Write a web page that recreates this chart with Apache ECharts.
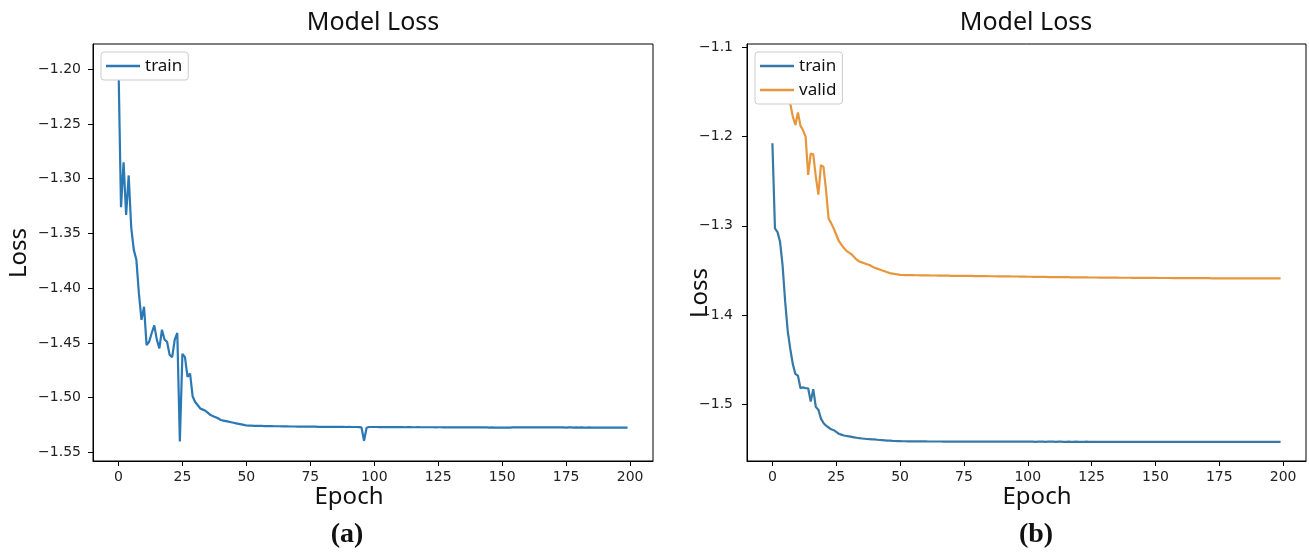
<!DOCTYPE html>
<html>
<head>
<meta charset="utf-8">
<script src="https://cdn.jsdelivr.net/npm/echarts@6/dist/echarts.min.js"></script>
<style>
html,body{margin:0;padding:0;background:#fff;}
#chart{width:1309px;height:554px;}
</style>
</head>
<body>
<div id="chart"></div>
<script>
// ---- data ----
const xTicks = [0, 25, 50, 75, 100, 125, 150, 175, 200];
const yTicksA = [-1.55, -1.50, -1.45, -1.40, -1.35, -1.30, -1.25, -1.20];
const yTicksB = [-1.5, -1.4, -1.3, -1.2, -1.1];

// (a) train loss, epochs 0..199
const trainA = [
-1.194,-1.326,-1.285,-1.333,-1.297,-1.345,-1.365,-1.374,-1.405,-1.429,
-1.417,-1.452,-1.449,-1.441,-1.434,-1.447,-1.455,-1.438,-1.447,-1.449,
-1.461,-1.463,-1.447,-1.441,-1.540,-1.460,-1.463,-1.481,-1.478,-1.499,
-1.504,-1.507,-1.510,-1.511,-1.512,-1.514,-1.516,-1.517,-1.518,-1.519,
-1.5205,-1.521,-1.5215,-1.522,-1.5225,-1.523,-1.5235,-1.524,-1.5245,-1.525,
-1.5255,-1.5256,-1.5257,-1.5258,-1.5258,-1.5259,-1.5259,-1.526,-1.526,-1.5261,
-1.5261,-1.5262,-1.5262,-1.5262,-1.5263,-1.5263,-1.5263,-1.5264,-1.5264,-1.5264,
-1.5265,-1.5265,-1.5265,-1.5265,-1.5266,-1.5266,-1.5266,-1.5266,-1.5267,-1.5267,
-1.5267,-1.5267,-1.5267,-1.5268,-1.5267,-1.5268,-1.5268,-1.5268,-1.5268,-1.5269,
-1.5268,-1.5269,-1.5269,-1.5269,-1.527,-1.5272,-1.5395,-1.5276,-1.5269,-1.5269,
-1.5269,-1.5269,-1.527,-1.5269,-1.527,-1.527,-1.527,-1.5269,-1.527,-1.527,
-1.527,-1.527,-1.5271,-1.527,-1.527,-1.5271,-1.5271,-1.527,-1.5271,-1.5271,
-1.5271,-1.5271,-1.5271,-1.5271,-1.5272,-1.5271,-1.5271,-1.5272,-1.5271,-1.5272,
-1.5272,-1.5271,-1.5272,-1.5272,-1.5272,-1.5272,-1.5273,-1.5272,-1.5272,-1.5273,
-1.5273,-1.5272,-1.5273,-1.5273,-1.5273,-1.5274,-1.5273,-1.5274,-1.5274,-1.5275,
-1.5275,-1.5275,-1.5274,-1.5274,-1.5273,-1.5273,-1.5272,-1.5272,-1.5272,-1.5272,
-1.5272,-1.5273,-1.5272,-1.5272,-1.5273,-1.5273,-1.5272,-1.5273,-1.5273,-1.5273,
-1.5273,-1.5273,-1.5272,-1.5273,-1.5273,-1.5274,-1.5273,-1.5273,-1.5274,-1.5273,
-1.5274,-1.5273,-1.5274,-1.5274,-1.5273,-1.5274,-1.5274,-1.5274,-1.5274,-1.5274,
-1.5274,-1.5274,-1.5275,-1.5274,-1.5274,-1.5274,-1.5275,-1.5274,-1.5274,-1.5274
];

// (b) train loss, epochs 0..199
const trainB = [
-1.2076,-1.303,-1.307,-1.318,-1.345,-1.385,-1.418,-1.438,-1.455,-1.466,
-1.468,-1.482,-1.481,-1.482,-1.482,-1.497,-1.483,-1.503,-1.506,-1.516,
-1.521,-1.524,-1.526,-1.528,-1.529,-1.531,-1.533,-1.534,-1.535,-1.5355,
-1.536,-1.5365,-1.537,-1.5375,-1.538,-1.5383,-1.5386,-1.5389,-1.539,-1.5392,
-1.5394,-1.5397,-1.54,-1.5402,-1.5404,-1.5406,-1.5408,-1.541,-1.5411,-1.5412,
-1.5413,-1.5414,-1.5414,-1.5415,-1.5415,-1.5415,-1.5416,-1.5416,-1.5416,-1.5416,
-1.5416,-1.5417,-1.5417,-1.5417,-1.5417,-1.5417,-1.5417,-1.5418,-1.5418,-1.5418,
-1.5418,-1.5418,-1.5418,-1.5418,-1.5418,-1.5418,-1.5418,-1.5419,-1.5418,-1.5418,
-1.5418,-1.5419,-1.5419,-1.5418,-1.5419,-1.5419,-1.5419,-1.5419,-1.5419,-1.5419,
-1.5419,-1.5419,-1.5419,-1.5419,-1.5419,-1.5419,-1.5419,-1.5419,-1.5419,-1.5419,
-1.5419,-1.5419,-1.5419,-1.542,-1.5419,-1.5419,-1.5419,-1.542,-1.5419,-1.5419,
-1.5419,-1.542,-1.5419,-1.5419,-1.542,-1.542,-1.5419,-1.542,-1.542,-1.5419,
-1.542,-1.542,-1.542,-1.5419,-1.542,-1.542,-1.542,-1.542,-1.542,-1.542,
-1.542,-1.542,-1.542,-1.542,-1.542,-1.542,-1.542,-1.542,-1.542,-1.542,
-1.542,-1.542,-1.542,-1.542,-1.5421,-1.542,-1.542,-1.542,-1.542,-1.542,
-1.542,-1.542,-1.5421,-1.542,-1.542,-1.542,-1.5421,-1.542,-1.542,-1.5421,
-1.5421,-1.542,-1.5421,-1.5421,-1.542,-1.5421,-1.5421,-1.5421,-1.5421,-1.5421,
-1.5421,-1.5421,-1.5421,-1.5421,-1.5421,-1.5421,-1.5421,-1.5421,-1.5421,-1.5421,
-1.5421,-1.5421,-1.5421,-1.5421,-1.5421,-1.5421,-1.5421,-1.5421,-1.5421,-1.5421,
-1.5421,-1.5421,-1.5421,-1.5421,-1.5421,-1.5421,-1.5421,-1.5421,-1.5421,-1.5421
];

// (b) valid loss, epochs 0..199
const validB = [
-1.118,-1.125,-1.133,-1.140,-1.147,-1.153,-1.158,-1.163,-1.178,-1.187,
-1.173,-1.188,-1.193,-1.200,-1.243,-1.219,-1.220,-1.245,-1.265,-1.232,
-1.234,-1.260,-1.292,-1.297,-1.303,-1.310,-1.317,-1.321,-1.325,-1.328,
-1.330,-1.332,-1.335,-1.338,-1.340,-1.341,-1.342,-1.343,-1.344,-1.3455,
-1.347,-1.348,-1.349,-1.350,-1.351,-1.352,-1.353,-1.3535,-1.354,-1.3545,
-1.355,-1.3551,-1.3552,-1.3552,-1.3553,-1.3553,-1.3554,-1.3554,-1.3555,-1.3555,
-1.3556,-1.3556,-1.3557,-1.3557,-1.3557,-1.3558,-1.3558,-1.3559,-1.3559,-1.3559,
-1.356,-1.356,-1.356,-1.3561,-1.3561,-1.3561,-1.3562,-1.3562,-1.3562,-1.3563,
-1.3563,-1.3563,-1.3564,-1.3564,-1.3564,-1.3565,-1.3565,-1.3565,-1.3566,-1.3566,
-1.3566,-1.3567,-1.3567,-1.3567,-1.3568,-1.3568,-1.3568,-1.3569,-1.3569,-1.357,
-1.3571,-1.3571,-1.3572,-1.3572,-1.3572,-1.3573,-1.3573,-1.3573,-1.3574,-1.3574,
-1.3574,-1.3575,-1.3575,-1.3575,-1.3576,-1.3576,-1.3576,-1.3577,-1.3577,-1.3577,
-1.3578,-1.3578,-1.3578,-1.3578,-1.3579,-1.3579,-1.3579,-1.3579,-1.358,-1.358,
-1.358,-1.358,-1.3581,-1.3581,-1.3581,-1.3581,-1.3582,-1.3582,-1.3582,-1.3582,
-1.3582,-1.3583,-1.3583,-1.3583,-1.3583,-1.3583,-1.3584,-1.3584,-1.3584,-1.3584,
-1.3584,-1.3585,-1.3585,-1.3585,-1.3585,-1.3585,-1.3585,-1.3586,-1.3586,-1.3586,
-1.3586,-1.3586,-1.3586,-1.3586,-1.3587,-1.3587,-1.3587,-1.3587,-1.3587,-1.3587,
-1.3587,-1.3587,-1.3588,-1.3588,-1.3588,-1.3588,-1.3588,-1.3588,-1.3588,-1.3588,
-1.3588,-1.3588,-1.3588,-1.3589,-1.3588,-1.3588,-1.3589,-1.3589,-1.3588,-1.3589,
-1.3589,-1.3589,-1.3589,-1.3589,-1.3589,-1.3589,-1.3589,-1.3589,-1.3589,-1.3589
];

// ---- chart ----
const chart = echarts.init(document.getElementById('chart'), null, {renderer: 'canvas'});
const MINUS = '\u2212';
const fmt = d => v => (v < 0 ? MINUS : '') + Math.abs(v).toFixed(d);
const pairs = arr => arr.map((v, i) => [i, v]);

const tickFont = {fontFamily: 'DejaVu Sans', fontSize: 14, color: '#222'};
function xAxis(gi) {
  return {
    type: 'value', gridIndex: gi, min: -9.95, max: 208.95,
    splitLine: {show: false},
    axisLine: {show: true, onZero: false, lineStyle: {color: '#000', width: 1}},
    axisTick: {show: true, length: 5, customValues: xTicks, lineStyle: {color: '#000'}},
    axisLabel: Object.assign({customValues: xTicks, margin: 9, formatter: v => String(v)}, tickFont)
  };
}
function yAxis(gi, min, max, ticks, dec, margin) {
  return {
    type: 'value', gridIndex: gi, min: min, max: max,
    splitLine: {show: false},
    axisLine: {show: true, onZero: false, lineStyle: {color: '#000', width: 1}},
    axisTick: {show: true, length: 5, customValues: ticks, lineStyle: {color: '#000'}},
    axisLabel: Object.assign({customValues: ticks, margin: margin, formatter: fmt(dec)}, tickFont)
  };
}

const legendCommon = {
  icon: 'rect',
  itemWidth: 34, itemHeight: 2.5, itemGap: 6,
  backgroundColor: '#fff', borderColor: '#cccccc', borderWidth: 1, borderRadius: 3,
  padding: [5, 6, 5, 5],
  formatter: n => n.split('-')[0],
  textStyle: {fontFamily: 'Noto Sans', fontSize: 17, color: '#111', lineHeight: 18},
  selectedMode: false
};

const textEl = (x, y, text, font, extra) => Object.assign({
  type: 'text', x: x, y: y,
  style: {text: text, font: font, fill: '#111', textAlign: 'center', textVerticalAlign: 'middle'}
}, extra || {});

chart.setOption({
  animation: false,
  backgroundColor: '#fff',
  grid: [
    {left: 93, top: 44, width: 560, height: 417, show: true, borderColor: '#000', borderWidth: 1, backgroundColor: '#fff'},
    {left: 747, top: 44, width: 559, height: 417, show: true, borderColor: '#000', borderWidth: 1, backgroundColor: '#fff'}
  ],
  xAxis: [xAxis(0), xAxis(1)],
  yAxis: [
    yAxis(0, -1.55795, -1.17688, yTicksA, 2, 12),
    yAxis(1, -1.56353, -1.0963, yTicksB, 1, 14)
  ],
  legend: [
    Object.assign({}, legendCommon, {left: 101, top: 52, data: ['train-a']}),
    Object.assign({}, legendCommon, {left: 755, top: 52, orient: 'vertical', data: ['train-b', 'valid-b']})
  ],
  series: [
    {name: 'train-a', type: 'line', xAxisIndex: 0, yAxisIndex: 0, data: pairs(trainA),
     symbol: 'none', lineStyle: {width: 2.2, color: '#2a78b4'}, itemStyle: {color: '#2a78b4'}, z: 2},
    {name: 'train-b', type: 'line', xAxisIndex: 1, yAxisIndex: 1, data: pairs(trainB),
     symbol: 'none', lineStyle: {width: 2.2, color: '#3779a6'}, itemStyle: {color: '#3779a6'}, z: 2},
    {name: 'valid-b', type: 'line', xAxisIndex: 1, yAxisIndex: 1, data: pairs(validB),
     symbol: 'none', lineStyle: {width: 2.2, color: '#e8963c'}, itemStyle: {color: '#e8963c'}, z: 2}
  ],
  graphic: [
    textEl(373, 23, 'Model Loss', '25px "Noto Sans"'),
    textEl(1026, 23, 'Model Loss', '25px "Noto Sans"'),
    textEl(19, 253, 'Loss', '24px "Noto Sans"', {rotation: Math.PI / 2}),
    textEl(700, 293, 'Loss', '24px "Noto Sans"', {rotation: Math.PI / 2}),
    textEl(349, 497, 'Epoch', '24px "Noto Sans"'),
    textEl(1037, 497, 'Epoch', '24px "Noto Sans"'),
    textEl(347, 535, '(a)', 'bold 28px "Liberation Serif"'),
    textEl(1036, 535, '(b)', 'bold 28px "Liberation Serif"')
  ]
});
</script>
</body>
</html>
